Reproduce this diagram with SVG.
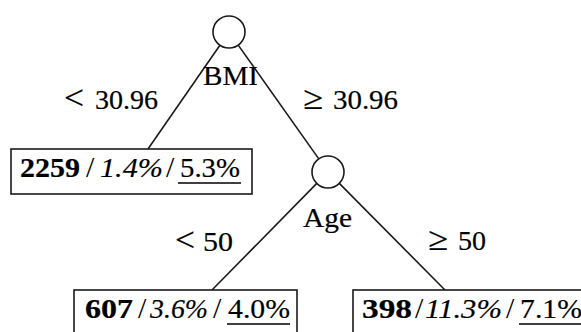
<svg xmlns="http://www.w3.org/2000/svg" width="581" height="332" viewBox="0 0 581 332">
<style>
  .t { font-family: "Liberation Serif", "Times New Roman", serif; font-size: 28px; fill: #000; stroke: #000; stroke-width: 0.2; }
  .b { font-weight: bold; }
  .i { font-style: italic; }
  .rel { font-size: 33px; }
  .sl { font-size: 30px; stroke-width: 0; }
  .node { fill: #fff; stroke: #1a1a1a; stroke-width: 1.6; }
  .edge { stroke: #1a1a1a; stroke-width: 1.6; fill: none; }
  .ul { stroke: #000; stroke-width: 1.4; }
</style>
<rect width="581" height="332" fill="#fff"/>
<g id="connectors">
  <line class="edge" x1="219.9" y1="45.2" x2="148" y2="149"/>
  <line class="edge" x1="238.2" y1="45.1" x2="318.8" y2="158.9"/>
  <line class="edge" x1="316.8" y1="183.4" x2="212" y2="290"/>
  <line class="edge" x1="339.3" y1="183.4" x2="445" y2="290"/>
  <text class="t" y="109"><tspan class="rel" x="64" textLength="20" lengthAdjust="spacingAndGlyphs">&lt;</tspan><tspan x="95" textLength="63" lengthAdjust="spacingAndGlyphs">30.96</tspan></text>
  <text class="t" y="109"><tspan class="rel" x="303" textLength="20" lengthAdjust="spacingAndGlyphs">≥</tspan><tspan x="333" textLength="65" lengthAdjust="spacingAndGlyphs">30.96</tspan></text>
  <text class="t" y="251"><tspan class="rel" x="175" textLength="20" lengthAdjust="spacingAndGlyphs">&lt;</tspan><tspan x="203" textLength="30" lengthAdjust="spacingAndGlyphs">50</tspan></text>
  <text class="t" y="250"><tspan class="rel" x="428" textLength="20" lengthAdjust="spacingAndGlyphs">≥</tspan><tspan x="458" textLength="28" lengthAdjust="spacingAndGlyphs">50</tspan></text>
</g>
<g id="node-bmi">
  <circle class="node" cx="229" cy="32" r="16"/>
  <text class="t" x="203" y="85" textLength="55" lengthAdjust="spacingAndGlyphs">BMI</text>
</g>
<g id="node-age">
  <circle class="node" cx="328" cy="172" r="16"/>
  <text class="t" x="303" y="227" textLength="49" lengthAdjust="spacingAndGlyphs">Age</text>
</g>
<g id="leaf-1">
  <rect class="node" x="11" y="149" width="241" height="45"/>
  <text class="t" y="177"><tspan class="b" x="20" textLength="60" lengthAdjust="spacingAndGlyphs">2259</tspan><tspan class="sl" x="86">/</tspan><tspan class="i" x="100" textLength="63" lengthAdjust="spacingAndGlyphs">1.4%</tspan><tspan class="sl" x="166">/</tspan><tspan x="180" textLength="60" lengthAdjust="spacingAndGlyphs">5.3%</tspan></text>
  <line class="ul" x1="178" y1="183" x2="241" y2="183"/>
</g>
<g id="leaf-2">
  <rect class="node" x="74" y="290" width="223" height="45"/>
  <text class="t" y="318"><tspan class="b" x="85" textLength="48" lengthAdjust="spacingAndGlyphs">607</tspan><tspan class="sl" x="138">/</tspan><tspan class="i" x="150" textLength="58" lengthAdjust="spacingAndGlyphs">3.6%</tspan><tspan class="sl" x="213">/</tspan><tspan x="228" textLength="62" lengthAdjust="spacingAndGlyphs">4.0%</tspan></text>
  <line class="ul" x1="227" y1="324" x2="290" y2="324"/>
</g>
<g id="leaf-3">
  <rect class="node" x="353" y="290" width="230" height="45"/>
  <text class="t" y="318"><tspan class="b" x="362" textLength="50" lengthAdjust="spacingAndGlyphs">398</tspan><tspan class="sl" x="415">/</tspan><tspan class="i" x="425" textLength="77" lengthAdjust="spacingAndGlyphs">11.3%</tspan><tspan class="sl" x="506">/</tspan><tspan x="520" textLength="62" lengthAdjust="spacingAndGlyphs">7.1%</tspan></text>
  <line class="ul" x1="519" y1="324" x2="583" y2="324"/>
</g>
</svg>
